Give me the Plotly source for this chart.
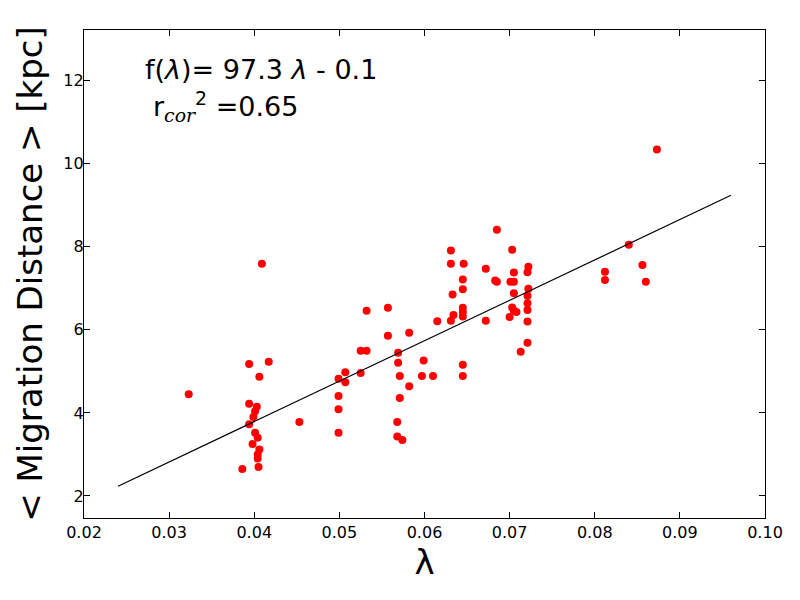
import plotly.graph_objects as go

# Scatter data: lambda (spin) vs <Migration Distance> [kpc]
lam = [
    0.0323, 0.0386, 0.0394, 0.0417, 0.0406, 0.0394, 0.0403, 0.0401, 0.0399, 0.0394,
    0.0401, 0.0404, 0.0398, 0.0406, 0.0404, 0.0404, 0.0405, 0.0453, 0.0409,
    0.0499, 0.0507, 0.0507, 0.0499, 0.0499, 0.0499, 0.0525, 0.0532, 0.0525, 0.0532,
    0.0557, 0.0557, 0.0582, 0.0569, 0.0569, 0.0599, 0.0571, 0.0597, 0.0610, 0.0582,
    0.0571, 0.0568, 0.0568, 0.0574, 0.0615,
    0.0631, 0.0631, 0.0646, 0.0645, 0.0645, 0.0633, 0.0645, 0.0645, 0.0645, 0.0634,
    0.0631, 0.0645, 0.0645, 0.0685, 0.0703, 0.0672, 0.0722, 0.0721, 0.0705, 0.0683,
    0.0685, 0.0701, 0.0705, 0.0722, 0.0705, 0.0721, 0.0721, 0.0721, 0.0703, 0.0705,
    0.0708, 0.0700, 0.0672, 0.0721, 0.0721, 0.0713,
    0.0873, 0.0840, 0.0856, 0.0812, 0.0812, 0.0860,
]
mig = [
    4.45, 2.65, 5.18, 5.23, 4.87, 4.22, 4.15, 4.04, 3.90, 3.73,
    3.52, 3.40, 3.25, 3.12, 3.00, 2.90, 2.70, 3.78, 7.59,
    4.82, 4.98, 4.74, 4.41, 4.09, 3.52, 5.50, 5.50, 4.96, 6.46,
    6.53, 5.86, 5.93, 5.45, 5.21, 5.26, 4.89, 4.89, 4.89, 4.64,
    4.36, 3.78, 3.43, 3.35, 6.21,
    7.91, 7.59, 7.59, 7.21, 6.98, 6.85, 6.53, 6.43, 6.32, 6.36,
    6.22, 5.16, 4.89, 8.41, 7.93, 7.47, 7.52, 7.39, 7.38, 7.19,
    7.16, 7.16, 7.16, 6.99, 6.88, 6.82, 6.64, 6.48, 6.54, 6.46,
    6.43, 6.31, 6.22, 6.20, 5.69, 5.47,
    10.34, 8.05, 7.56, 7.40, 7.20, 7.16,
]

# Linear fit shown in the annotation
fit_slope = 97.3
fit_intercept = -0.1
fit_x = [0.024, 0.096]
fit_y = [fit_slope * v + fit_intercept for v in fit_x]

x_ticks = [0.02, 0.03, 0.04, 0.05, 0.06, 0.07, 0.08, 0.09, 0.10]
x_tick_labels = ["0.02", "0.03", "0.04", "0.05", "0.06", "0.07", "0.08", "0.09", "0.10"]
y_ticks = [2, 4, 6, 8, 10, 12]
y_tick_labels = ["2", "4", "6", "8", "10", "12"]

FONT = "DejaVu Sans"

fig = go.Figure()
fig.add_trace(go.Scatter(
    x=lam, y=mig, mode="markers",
    marker=dict(color="#ff0000", size=8, line=dict(width=0)),
    showlegend=False,
))
fig.add_trace(go.Scatter(
    x=fit_x, y=fit_y, mode="lines",
    line=dict(color="black", width=1.2),
    showlegend=False,
))

axis_common = dict(
    showgrid=False, zeroline=False,
    showline=True, linecolor="black", linewidth=1.2,
    mirror="allticks", ticks="inside", ticklen=6, tickwidth=1, tickcolor="black",
    tickfont=dict(family=FONT, size=16, color="black"),
)

fig.update_xaxes(
    range=[0.02, 0.10], tickvals=x_ticks, ticktext=x_tick_labels,
    title=dict(text="λ", font=dict(family=FONT, size=34, color="black"), standoff=8),
    **axis_common,
)
fig.update_yaxes(
    range=[1.47, 13.22], tickvals=y_ticks, ticktext=y_tick_labels,
    ticklabelstandoff=-4,
    title=dict(text="< Migration Distance > [kpc]", font=dict(family=FONT, size=34, color="black"), standoff=10),
    **axis_common,
)

fig.add_annotation(
    x=0.0269, y=12.27, xref="x", yref="y", xanchor="left", yanchor="middle",
    text="f(<i>λ</i>)= 97.3 <i>λ</i> - 0.1", showarrow=False,
    font=dict(family=FONT, size=27, color="black"),
)
fig.add_annotation(
    x=0.0279, y=11.37, xref="x", yref="y", xanchor="left", yanchor="middle",
    text="r<sub><span style=\"font-family:'DejaVu Serif'\"><i>cor</i></span></sub><sup>2</sup> =0.65",
    showarrow=False,
    font=dict(family=FONT, size=27, color="black"),
)

fig.update_layout(
    width=800, height=600,
    margin=dict(l=84, r=35, t=30, b=82, autoexpand=False),
    plot_bgcolor="white", paper_bgcolor="white",
    font=dict(family=FONT, color="black"),
)

fig.write_html("out.html")
